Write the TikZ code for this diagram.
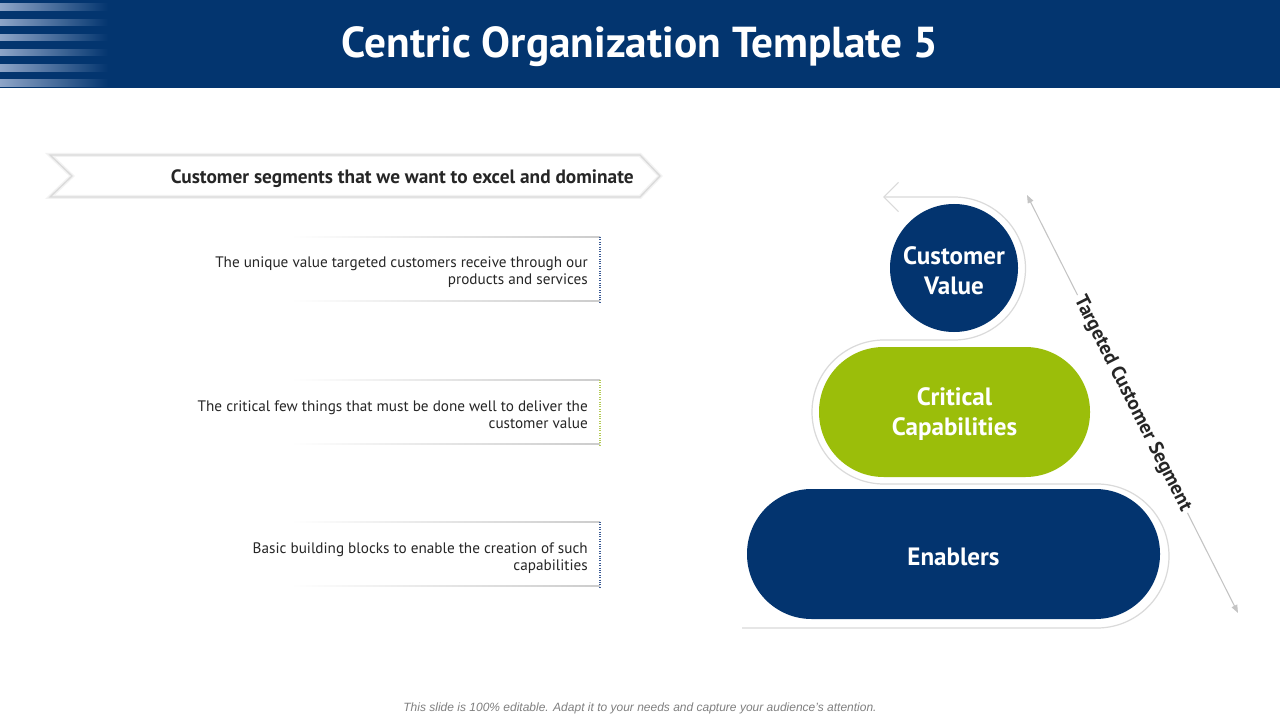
\documentclass[tikz,border=0pt]{standalone}
\usepackage{fontspec}
\setmainfont{PT Sans}
\newfontfamily\footfont{Liberation Sans}
\usetikzlibrary{arrows.meta}
\definecolor{hdr}{HTML}{03356F}
\definecolor{navy}{HTML}{03346F}
\definecolor{lime}{HTML}{9BBE0A}
\definecolor{txt}{HTML}{262626}
\definecolor{stripe}{HTML}{8EA5C8}
\definecolor{dotblue}{HTML}{3A5A94}
\definecolor{dotgreen}{HTML}{B4CB55}
\definecolor{ring}{HTML}{DADADA}
\definecolor{arrowgray}{HTML}{C4C4C4}
\begin{document}
\begin{tikzpicture}[x=0.75pt,y=-0.75pt,
  desc/.style={anchor=east, align=right, inner sep=0pt, text=txt,
    font=\fontsize{11.4}{12.75}\selectfont},
  fadeline/.style={left color=white, right color=gray!40},
  bigtext/.style={text=white, align=center, inner sep=0pt,
    font=\bfseries\fontsize{18.8}{22.5}\selectfont},
  pillnavy/.style={fill=navy, rounded corners=48.5pt, minimum height=97.5pt},
  pilllime/.style={fill=lime, rounded corners=48.5pt, minimum height=97.5pt},
  outline/.style={draw=ring, line width=0.9pt}
]
\useasboundingbox (0,0) rectangle (1280,720);
\fill[white] (0,0) rectangle (1280,720);
% header
\fill[hdr] (0,0) rectangle (1280,88);
\foreach \y in {4,19.5,34.5,49.5,65,80}{
  \shade[left color=stripe, right color=hdr] (0,\y) rectangle (108,\y+6.5);
}
\node[text=white, font=\bfseries\fontsize{32.5}{38}\selectfont] (title) at (640,47) {Centric Organization Template 5};

% banner
\draw[gray!10, line width=3pt, fill=white] (50,155) -- (640,155) -- (660,176) -- (640,197) -- (50,197) -- (72,176) -- cycle;
\draw[ring, line width=1pt] (50,155) -- (640,155) -- (660,176) -- (640,197) -- (50,197) -- (72,176) -- cycle;
\node[anchor=east, text=txt, inner sep=0pt, font=\bfseries\fontsize{14.5}{17}\selectfont] (banner) at (634,179) {Customer segments that we want to excel and dominate};

% description boxes
\shade[fadeline] (290,236.6) rectangle (600,237.8);
\shade[fadeline] (290,300.6) rectangle (600,301.8);
\draw[dotblue, densely dotted, line width=0.8pt] (600,237) -- (600,302);
\node[desc] (d1) at (588,272) {The unique value targeted customers receive through our\\products and services};

\shade[fadeline] (290,379.6) rectangle (600,380.8);
\shade[fadeline] (290,443.6) rectangle (600,444.8);
\draw[dotgreen, densely dotted, line width=0.8pt] (600,380) -- (600,445);
\node[desc] (d2) at (588,415) {The critical few things that must be done well to deliver the\\customer value};

\shade[fadeline] (290,521.6) rectangle (600,522.8);
\shade[fadeline] (290,585.6) rectangle (600,586.8);
\draw[dotblue, densely dotted, line width=0.8pt] (600,522) -- (600,587);
\node[desc] (d3) at (588,558) {Basic building blocks to enable the creation of such\\capabilities};

% snake outline
\coordinate (ostart) at (883,197);
\coordinate (oend) at (742,628);
\draw[outline, {Straight Barb[length=11pt,width=22pt]}-] (ostart) -- (954,197)
  arc[start angle=-90, end angle=90, radius=71.5]
  -- (884,340) arc[start angle=270, end angle=90, radius=72]
  -- (1097,484) arc[start angle=-90, end angle=90, radius=72]
  -- (oend);

% main shapes
\node[circle, fill=navy, minimum size=96pt, inner sep=0pt] (cv) at (954,268) {};
\node[pilllime, minimum width=203.25pt] (cc) at (954.5,412) {};
\node[pillnavy, minimum width=309.75pt] (en) at (953.5,554) {};
\node[bigtext] (cvt) at ([yshift=-2.3pt]cv.center) {Customer\\Value};
\node[bigtext] (cct) at ([yshift=-1.5pt]cc.center) {Critical\\Capabilities};
\node[bigtext] (ent) at ([yshift=-2.3pt]en.center) {Enablers};

% diagonal double arrow
\coordinate (tA) at (1027,195);
\coordinate (tB) at (1238,613);
\draw[arrowgray, line width=0.8pt, {Triangle[length=6pt,width=4.5pt]}-{Triangle[length=6pt,width=4.5pt]}] (tA) -- (tB)
  node[midway, sloped, fill=white, text=txt, inner sep=2pt, font=\bfseries\fontsize{14.8}{17}\selectfont] (tcs) {Targeted Customer Segment};

% footer
\node[text=gray, font=\footfont\itshape\fontsize{9}{10}\selectfont] (foot) at (640,708) {This slide is 100\% editable. Adapt it to your needs and capture your audience’s attention.};
\end{tikzpicture}
\end{document}
